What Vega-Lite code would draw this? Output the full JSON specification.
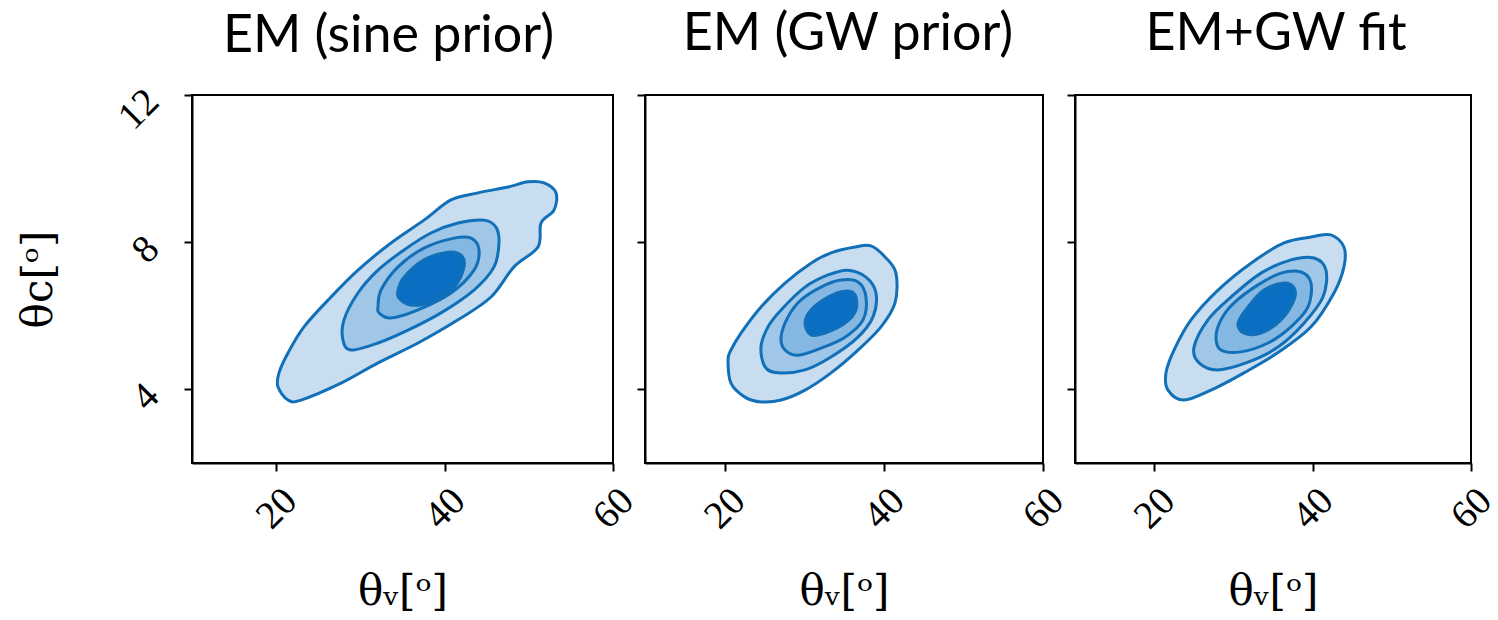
{
  "$schema": "https://vega.github.io/schema/vega-lite/v6.json",
  "background": "white",
  "padding": {"left": 16, "top": 7, "right": 5, "bottom": 5},
  "bounds": "flush",
  "spacing": 32,
  "config": {
    "view": {"stroke": "black", "strokeWidth": 2},
    "axis": {
      "grid": false,
      "domainColor": "black",
      "domainWidth": 2,
      "tickColor": "black",
      "tickWidth": 2,
      "tickSize": 8,
      "labelColor": "black",
      "titleColor": "black",
      "labelFont": "Liberation Serif",
      "labelFontSize": 39,
      "titleFont": "DejaVu Serif",
      "titleFontSize": 42,
      "titleFontWeight": "normal",
      "labelOverlap": false,
      "labelFlush": false
    },
    "title": {"font": "Lato", "fontSize": 52, "fontWeight": "normal", "color": "black", "baseline": "alphabetic", "offset": 33, "frame": "group"}
  },
  "data": {"values": [
    {"p":"sine","l":1,"i":0,"x":20.21,"y":4.07},{"p":"sine","l":1,"i":1,"x":21.40,"y":3.71},{"p":"sine","l":1,"i":2,"x":22.95,"y":3.71},{"p":"sine","l":1,"i":3,"x":27.70,"y":4.17},{"p":"sine","l":1,"i":4,"x":32.09,"y":4.72},{"p":"sine","l":1,"i":5,"x":36.84,"y":5.26},{"p":"sine","l":1,"i":6,"x":41.59,"y":5.89},{"p":"sine","l":1,"i":7,"x":45.51,"y":6.51},{"p":"sine","l":1,"i":8,"x":48.24,"y":7.33},{"p":"sine","l":1,"i":9,"x":51.09,"y":7.87},{"p":"sine","l":1,"i":10,"x":51.45,"y":8.52},{"p":"sine","l":1,"i":11,"x":52.99,"y":8.87},{"p":"sine","l":1,"i":12,"x":53.23,"y":9.34},{"p":"sine","l":1,"i":13,"x":51.81,"y":9.61},{"p":"sine","l":1,"i":14,"x":49.90,"y":9.64},{"p":"sine","l":1,"i":15,"x":47.53,"y":9.50},{"p":"sine","l":1,"i":16,"x":43.97,"y":9.34},{"p":"sine","l":1,"i":17,"x":40.76,"y":9.15},{"p":"sine","l":1,"i":18,"x":37.55,"y":8.60},{"p":"sine","l":1,"i":19,"x":33.63,"y":7.98},{"p":"sine","l":1,"i":20,"x":29.71,"y":7.24},{"p":"sine","l":1,"i":21,"x":26.51,"y":6.51},{"p":"sine","l":1,"i":22,"x":23.30,"y":5.70},{"p":"sine","l":1,"i":23,"x":21.40,"y":4.99},{"p":"sine","l":1,"i":24,"x":20.33,"y":4.45},
    {"p":"sine","l":2,"i":0,"x":27.93,"y":5.34},{"p":"sine","l":2,"i":1,"x":28.88,"y":5.07},{"p":"sine","l":2,"i":2,"x":32.09,"y":5.26},{"p":"sine","l":2,"i":3,"x":35.65,"y":5.61},{"p":"sine","l":2,"i":4,"x":39.57,"y":6.08},{"p":"sine","l":2,"i":5,"x":43.49,"y":6.70},{"p":"sine","l":2,"i":6,"x":45.87,"y":7.33},{"p":"sine","l":2,"i":7,"x":46.46,"y":7.98},{"p":"sine","l":2,"i":8,"x":46.10,"y":8.41},{"p":"sine","l":2,"i":9,"x":44.68,"y":8.60},{"p":"sine","l":2,"i":10,"x":41.59,"y":8.52},{"p":"sine","l":2,"i":11,"x":38.38,"y":8.25},{"p":"sine","l":2,"i":12,"x":35.18,"y":7.79},{"p":"sine","l":2,"i":13,"x":32.09,"y":7.24},{"p":"sine","l":2,"i":14,"x":29.71,"y":6.62},{"p":"sine","l":2,"i":15,"x":28.05,"y":5.89},
    {"p":"sine","l":3,"i":0,"x":32.21,"y":6.08},{"p":"sine","l":3,"i":1,"x":33.63,"y":5.94},{"p":"sine","l":3,"i":2,"x":36.84,"y":6.16},{"p":"sine","l":3,"i":3,"x":40.76,"y":6.62},{"p":"sine","l":3,"i":4,"x":43.49,"y":7.24},{"p":"sine","l":3,"i":5,"x":44.09,"y":7.79},{"p":"sine","l":3,"i":6,"x":43.14,"y":8.11},{"p":"sine","l":3,"i":7,"x":41.12,"y":8.11},{"p":"sine","l":3,"i":8,"x":37.55,"y":7.84},{"p":"sine","l":3,"i":9,"x":34.47,"y":7.33},{"p":"sine","l":3,"i":10,"x":32.45,"y":6.70},{"p":"sine","l":3,"i":11,"x":32.09,"y":6.24},
    {"p":"sine","l":4,"i":0,"x":34.58,"y":6.48},{"p":"sine","l":4,"i":1,"x":36.01,"y":6.29},{"p":"sine","l":4,"i":2,"x":38.38,"y":6.38},{"p":"sine","l":4,"i":3,"x":41.12,"y":6.78},{"p":"sine","l":4,"i":4,"x":42.30,"y":7.33},{"p":"sine","l":4,"i":5,"x":41.95,"y":7.65},{"p":"sine","l":4,"i":6,"x":40.40,"y":7.73},{"p":"sine","l":4,"i":7,"x":37.55,"y":7.52},{"p":"sine","l":4,"i":8,"x":35.18,"y":7.05},{"p":"sine","l":4,"i":9,"x":34.47,"y":6.70},
    {"p":"gw","l":1,"i":0,"x":20.43,"y":4.80},{"p":"gw","l":1,"i":1,"x":20.80,"y":4.17},{"p":"gw","l":1,"i":2,"x":22.56,"y":3.79},{"p":"gw","l":1,"i":3,"x":24.57,"y":3.66},{"p":"gw","l":1,"i":4,"x":27.09,"y":3.71},{"p":"gw","l":1,"i":5,"x":30.10,"y":3.98},{"p":"gw","l":1,"i":6,"x":33.37,"y":4.45},{"p":"gw","l":1,"i":7,"x":36.76,"y":5.07},{"p":"gw","l":1,"i":8,"x":39.65,"y":5.70},{"p":"gw","l":1,"i":9,"x":41.41,"y":6.35},{"p":"gw","l":1,"i":10,"x":41.53,"y":7.16},{"p":"gw","l":1,"i":11,"x":40.15,"y":7.60},{"p":"gw","l":1,"i":12,"x":38.39,"y":7.90},{"p":"gw","l":1,"i":13,"x":36.38,"y":7.87},{"p":"gw","l":1,"i":14,"x":33.37,"y":7.71},{"p":"gw","l":1,"i":15,"x":30.85,"y":7.43},{"p":"gw","l":1,"i":16,"x":27.59,"y":6.89},{"p":"gw","l":1,"i":17,"x":24.57,"y":6.24},{"p":"gw","l":1,"i":18,"x":22.06,"y":5.53},{"p":"gw","l":1,"i":19,"x":20.80,"y":5.07},
    {"p":"gw","l":2,"i":0,"x":24.57,"y":5.15},{"p":"gw","l":2,"i":1,"x":25.08,"y":4.61},{"p":"gw","l":2,"i":2,"x":26.71,"y":4.45},{"p":"gw","l":2,"i":3,"x":30.10,"y":4.53},{"p":"gw","l":2,"i":4,"x":33.37,"y":4.88},{"p":"gw","l":2,"i":5,"x":36.76,"y":5.42},{"p":"gw","l":2,"i":6,"x":38.64,"y":5.97},{"p":"gw","l":2,"i":7,"x":39.02,"y":6.62},{"p":"gw","l":2,"i":8,"x":37.76,"y":7.05},{"p":"gw","l":2,"i":9,"x":35.50,"y":7.24},{"p":"gw","l":2,"i":10,"x":32.99,"y":7.11},{"p":"gw","l":2,"i":11,"x":30.10,"y":6.78},{"p":"gw","l":2,"i":12,"x":27.09,"y":6.16},{"p":"gw","l":2,"i":13,"x":25.45,"y":5.70},
    {"p":"gw","l":3,"i":0,"x":27.09,"y":5.42},{"p":"gw","l":3,"i":1,"x":27.59,"y":5.07},{"p":"gw","l":3,"i":2,"x":29.22,"y":4.93},{"p":"gw","l":3,"i":3,"x":32.11,"y":5.12},{"p":"gw","l":3,"i":4,"x":35.13,"y":5.42},{"p":"gw","l":3,"i":5,"x":37.39,"y":5.89},{"p":"gw","l":3,"i":6,"x":37.76,"y":6.51},{"p":"gw","l":3,"i":7,"x":36.76,"y":6.92},{"p":"gw","l":3,"i":8,"x":34.62,"y":6.97},{"p":"gw","l":3,"i":9,"x":32.11,"y":6.78},{"p":"gw","l":3,"i":10,"x":29.60,"y":6.43},{"p":"gw","l":3,"i":11,"x":27.97,"y":5.97},
    {"p":"gw","l":4,"i":0,"x":30.10,"y":5.80},{"p":"gw","l":4,"i":1,"x":30.85,"y":5.48},{"p":"gw","l":4,"i":2,"x":32.61,"y":5.53},{"p":"gw","l":4,"i":3,"x":35.13,"y":5.80},{"p":"gw","l":4,"i":4,"x":36.51,"y":6.16},{"p":"gw","l":4,"i":5,"x":36.38,"y":6.57},{"p":"gw","l":4,"i":6,"x":35.13,"y":6.67},{"p":"gw","l":4,"i":7,"x":32.99,"y":6.51},{"p":"gw","l":4,"i":8,"x":30.85,"y":6.16},
    {"p":"fit","l":1,"i":0,"x":21.49,"y":4.45},{"p":"fit","l":1,"i":1,"x":21.74,"y":3.98},{"p":"fit","l":1,"i":2,"x":23.76,"y":3.71},{"p":"fit","l":1,"i":3,"x":27.17,"y":3.98},{"p":"fit","l":1,"i":4,"x":31.34,"y":4.45},{"p":"fit","l":1,"i":5,"x":35.63,"y":5.00},{"p":"fit","l":1,"i":6,"x":39.80,"y":5.70},{"p":"fit","l":1,"i":7,"x":42.70,"y":6.62},{"p":"fit","l":1,"i":8,"x":43.96,"y":7.33},{"p":"fit","l":1,"i":9,"x":43.96,"y":7.87},{"p":"fit","l":1,"i":10,"x":42.32,"y":8.20},{"p":"fit","l":1,"i":11,"x":39.80,"y":8.14},{"p":"fit","l":1,"i":12,"x":36.39,"y":7.98},{"p":"fit","l":1,"i":13,"x":32.22,"y":7.43},{"p":"fit","l":1,"i":14,"x":28.06,"y":6.70},{"p":"fit","l":1,"i":15,"x":24.65,"y":5.89},{"p":"fit","l":1,"i":16,"x":22.50,"y":5.07},
    {"p":"fit","l":2,"i":0,"x":25.03,"y":5.15},{"p":"fit","l":2,"i":1,"x":25.66,"y":4.72},{"p":"fit","l":2,"i":2,"x":28.06,"y":4.53},{"p":"fit","l":2,"i":3,"x":31.84,"y":4.74},{"p":"fit","l":2,"i":4,"x":35.63,"y":5.15},{"p":"fit","l":2,"i":5,"x":38.91,"y":5.80},{"p":"fit","l":2,"i":6,"x":41.31,"y":6.51},{"p":"fit","l":2,"i":7,"x":41.69,"y":7.24},{"p":"fit","l":2,"i":8,"x":40.18,"y":7.57},{"p":"fit","l":2,"i":9,"x":37.27,"y":7.52},{"p":"fit","l":2,"i":10,"x":33.48,"y":7.16},{"p":"fit","l":2,"i":11,"x":29.70,"y":6.51},{"p":"fit","l":2,"i":12,"x":26.79,"y":5.89},
    {"p":"fit","l":3,"i":0,"x":27.80,"y":5.42},{"p":"fit","l":3,"i":1,"x":28.43,"y":5.07},{"p":"fit","l":3,"i":2,"x":30.96,"y":5.02},{"p":"fit","l":3,"i":3,"x":34.37,"y":5.26},{"p":"fit","l":3,"i":4,"x":37.27,"y":5.70},{"p":"fit","l":3,"i":5,"x":39.42,"y":6.24},{"p":"fit","l":3,"i":6,"x":39.80,"y":6.89},{"p":"fit","l":3,"i":7,"x":38.54,"y":7.19},{"p":"fit","l":3,"i":8,"x":36.01,"y":7.16},{"p":"fit","l":3,"i":9,"x":33.11,"y":6.84},{"p":"fit","l":3,"i":10,"x":30.08,"y":6.35},{"p":"fit","l":3,"i":11,"x":28.43,"y":5.89},
    {"p":"fit","l":4,"i":0,"x":30.58,"y":5.80},{"p":"fit","l":4,"i":1,"x":31.34,"y":5.53},{"p":"fit","l":4,"i":2,"x":33.48,"y":5.53},{"p":"fit","l":4,"i":3,"x":36.01,"y":5.89},{"p":"fit","l":4,"i":4,"x":37.65,"y":6.43},{"p":"fit","l":4,"i":5,"x":37.65,"y":6.76},{"p":"fit","l":4,"i":6,"x":36.39,"y":6.89},{"p":"fit","l":4,"i":7,"x":33.86,"y":6.70},{"p":"fit","l":4,"i":8,"x":31.84,"y":6.24}
  ]},
  "hconcat": [
    {
      "width": 421, "height": 368,
      "title": {"text": "EM (sine prior)", "dx": -14, "offset": 19},
      "transform": [{"filter": "datum.p == 'sine'"}],
      "encoding": {
        "x": {"field": "x", "type": "quantitative", "scale": {"domain": [10, 60], "nice": false, "zero": false},
              "axis": {"values": [20, 40, 60], "title": "θᵥ[ᵒ]", "labelAngle": -45, "labelAlign": "center", "labelBaseline": "middle", "labelPadding": 37, "titlePadding": 36}},
        "y": {"field": "y", "type": "quantitative", "scale": {"domain": [2, 12], "nice": false, "zero": false},
              "axis": {"values": [4, 8, 12], "title": "θc[ᵒ]", "labelAngle": -45, "labelAlign": "right", "labelBaseline": "middle", "labelPadding": 32, "titlePadding": 50}},
        "order": {"field": "i", "type": "quantitative"}
      },
      "layer": [
        {"transform": [{"filter": "datum.l == 1"}], "mark": {"type": "line", "interpolate": "cardinal-closed", "fill": "#c8ddf0", "stroke": "#1170b8", "strokeWidth": 3, "strokeJoin": "round"}},
        {"transform": [{"filter": "datum.l == 2"}], "mark": {"type": "line", "interpolate": "cardinal-closed", "fill": "#a0c6e8", "stroke": "#1170b8", "strokeWidth": 3, "strokeJoin": "round"}},
        {"transform": [{"filter": "datum.l == 3"}], "mark": {"type": "line", "interpolate": "cardinal-closed", "fill": "#84b7e1", "stroke": "#1170b8", "strokeWidth": 3, "strokeJoin": "round"}},
        {"transform": [{"filter": "datum.l == 4"}], "mark": {"type": "line", "interpolate": "cardinal-closed", "fill": "#0a6ec2", "stroke": "#1170b8", "strokeWidth": 3, "strokeJoin": "round"}}
      ]
    },
    {
      "width": 398, "height": 368,
      "title": {"text": "EM (GW prior)", "dx": 4},
      "transform": [{"filter": "datum.p == 'gw'"}],
      "encoding": {
        "x": {"field": "x", "type": "quantitative", "scale": {"domain": [10, 60], "nice": false, "zero": false},
              "axis": {"values": [20, 40, 60], "title": "θᵥ[ᵒ]", "labelAngle": -45, "labelAlign": "center", "labelBaseline": "middle", "labelPadding": 37, "titlePadding": 36}},
        "y": {"field": "y", "type": "quantitative", "scale": {"domain": [2, 12], "nice": false, "zero": false},
              "axis": {"values": [4, 8, 12], "title": null, "labels": false}},
        "order": {"field": "i", "type": "quantitative"}
      },
      "layer": [
        {"transform": [{"filter": "datum.l == 1"}], "mark": {"type": "line", "interpolate": "cardinal-closed", "fill": "#c8ddf0", "stroke": "#1170b8", "strokeWidth": 3, "strokeJoin": "round"}},
        {"transform": [{"filter": "datum.l == 2"}], "mark": {"type": "line", "interpolate": "cardinal-closed", "fill": "#a0c6e8", "stroke": "#1170b8", "strokeWidth": 3, "strokeJoin": "round"}},
        {"transform": [{"filter": "datum.l == 3"}], "mark": {"type": "line", "interpolate": "cardinal-closed", "fill": "#84b7e1", "stroke": "#1170b8", "strokeWidth": 3, "strokeJoin": "round"}},
        {"transform": [{"filter": "datum.l == 4"}], "mark": {"type": "line", "interpolate": "cardinal-closed", "fill": "#0a6ec2", "stroke": "#1170b8", "strokeWidth": 3, "strokeJoin": "round"}}
      ]
    },
    {
      "width": 396, "height": 368,
      "title": {"text": "EM+GW fit", "dx": 3},
      "transform": [{"filter": "datum.p == 'fit'"}],
      "encoding": {
        "x": {"field": "x", "type": "quantitative", "scale": {"domain": [10, 60], "nice": false, "zero": false},
              "axis": {"values": [20, 40, 60], "title": "θᵥ[ᵒ]", "labelAngle": -45, "labelAlign": "center", "labelBaseline": "middle", "labelPadding": 37, "titlePadding": 36}},
        "y": {"field": "y", "type": "quantitative", "scale": {"domain": [2, 12], "nice": false, "zero": false},
              "axis": {"values": [4, 8, 12], "title": null, "labels": false}},
        "order": {"field": "i", "type": "quantitative"}
      },
      "layer": [
        {"transform": [{"filter": "datum.l == 1"}], "mark": {"type": "line", "interpolate": "cardinal-closed", "fill": "#c8ddf0", "stroke": "#1170b8", "strokeWidth": 3, "strokeJoin": "round"}},
        {"transform": [{"filter": "datum.l == 2"}], "mark": {"type": "line", "interpolate": "cardinal-closed", "fill": "#a0c6e8", "stroke": "#1170b8", "strokeWidth": 3, "strokeJoin": "round"}},
        {"transform": [{"filter": "datum.l == 3"}], "mark": {"type": "line", "interpolate": "cardinal-closed", "fill": "#84b7e1", "stroke": "#1170b8", "strokeWidth": 3, "strokeJoin": "round"}},
        {"transform": [{"filter": "datum.l == 4"}], "mark": {"type": "line", "interpolate": "cardinal-closed", "fill": "#0a6ec2", "stroke": "#1170b8", "strokeWidth": 3, "strokeJoin": "round"}}
      ]
    }
  ]
}
